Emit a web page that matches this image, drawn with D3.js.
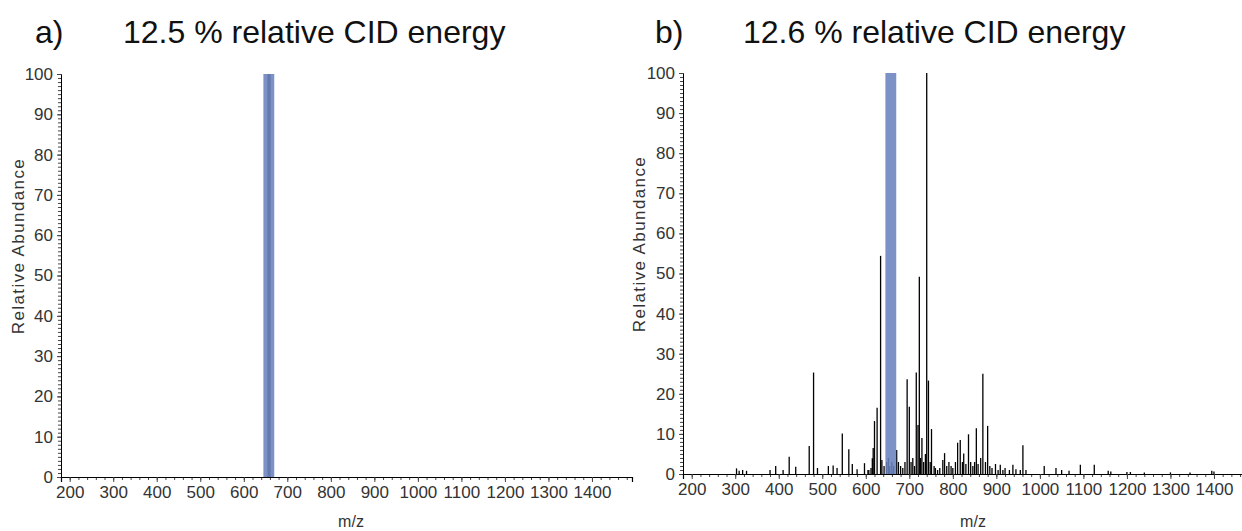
<!DOCTYPE html>
<html>
<head>
<meta charset="utf-8">
<script src="https://cdn.jsdelivr.net/npm/d3@7"></script>
<style>
  body { margin: 0; background: #fff; }
  svg text { font-family: "Liberation Sans", Arial, sans-serif; }
</style>
</head>
<body>
<div id="chart"></div>
<script>
// chart values
var panelLetters = ["a)", "b)"];
var panelTitles = ["12.5 % relative CID energy", "12.6 % relative CID energy"];
var mzTicks = [200, 300, 400, 500, 600, 700, 800, 900, 1000, 1100, 1200, 1300, 1400];
var abundanceTicks = [0, 10, 20, 30, 40, 50, 60, 70, 80, 90, 100];
var isolationWindow = [645, 670];

// panel a: only the precursor under the isolation window
var peaksA = [[656, 100], [660, 100]];

// panel b: fragment peaks [m/z, relative abundance]
var peaksB = [
  [303, 1.4], [309, 0.8], [317, 1.0], [326, 0.8], [380, 1.0], [393, 2.0], [410, 1.0],
  [424, 4.3], [439, 1.8], [470, 7.0], [480, 25.3], [489, 1.5], [514, 2.0], [525, 2.1],
  [534, 1.5], [546, 10.1], [561, 6.2], [569, 2.5], [580, 1.2], [597, 2.7], [605, 1.0],
  [607, 1.0], [612, 1.5], [615, 3.9], [617, 6.5], [620, 13.2], [626, 16.5], [634, 54.4],
  [637, 3.5], [642, 2], [648, 3], [652, 4], [655, 2], [660, 3], [664, 2], [671, 6],
  [675, 3], [680, 2], [685, 1.5], [690, 3], [695, 23.6], [700, 16.8], [704, 3], [708, 4],
  [712, 2], [716, 25.3], [720, 12.2], [723, 49.2], [726, 4], [729, 9], [733, 3], [737, 5],
  [740, 100], [744, 23.3], [748, 3], [751, 11.2], [757, 2], [760, 1.5], [765, 1], [770, 1.5],
  [777, 3.5], [781, 5.2], [786, 2], [791, 3], [796, 2], [800, 1.5], [806, 3], [811, 7.8],
  [817, 8.5], [822, 3], [825, 5.1], [830, 2.5], [836, 9.9], [841, 3], [846, 2], [850, 3],
  [854, 11.4], [858, 2.5], [864, 4], [869, 25], [875, 3], [880, 12], [885, 2], [890, 1.5],
  [898, 2.5], [904, 1], [909, 2.3], [915, 1], [920, 1.5], [930, 1], [938, 2.3], [945, 1.2],
  [955, 1], [961, 7.2], [968, 1], [1010, 2], [1037, 1.5], [1050, 1], [1067, 0.8],
  [1093, 2.3], [1125, 2.3], [1157, 0.8], [1163, 0.6], [1200, 0.5], [1208, 0.5],
  [1240, 0.4], [1300, 0.4], [1345, 0.4], [1395, 0.8], [1400, 0.6]
];

var svg = d3.select("#chart")
  .append("svg")
  .attr("width", 1242)
  .attr("height", 531);

function drawPanel(p) {
  var x = d3.scaleLinear().domain([180, 1492]).range([p.left, p.left + 571]);
  var y = d3.scaleLinear().domain([0, 100]).range([p.bottom, p.top]);

  var g = svg.append("g");

  // title
  g.append("text")
    .attr("x", p.letterX).attr("y", 43)
    .attr("font-size", "32px").attr("fill", "#111")
    .text(p.letter);
  g.append("text")
    .attr("x", p.titleX).attr("y", 43)
    .attr("font-size", "32px").attr("fill", "#111")
    .text(p.title);

  // spectrum sticks
  g.selectAll("line.peak")
    .data(p.peaks)
    .enter()
    .append("line")
    .attr("class", "peak")
    .attr("x1", d => x(d[0])).attr("x2", d => x(d[0]))
    .attr("y1", y(0)).attr("y2", d => y(d[1]))
    .attr("stroke", "#000")
    .attr("stroke-width", 1.3);

  // isolation window
  g.append("rect")
    .attr("x", x(isolationWindow[0]))
    .attr("width", x(isolationWindow[1]) - x(isolationWindow[0]))
    .attr("y", y(100))
    .attr("height", y(0) - y(100))
    .attr("fill", "#6a83bf")
    .attr("opacity", 0.88);

  // y axis, minor ticks
  g.append("g")
    .attr("transform", `translate(${p.left},0)`)
    .call(d3.axisLeft(y).tickValues(d3.range(0, 101, 1)).tickSize(3).tickFormat(""))
    .call(a => a.selectAll("line").attr("stroke", "#444"))
    .call(a => a.select(".domain").remove());
  // y axis, labels
  g.append("g")
    .attr("transform", `translate(${p.left},0)`)
    .call(d3.axisLeft(y).tickValues(abundanceTicks).tickSize(4).tickPadding(4))
    .call(a => a.selectAll("text").attr("font-size", "17px").attr("fill", "#333").attr("font-family", null))
    .call(a => a.selectAll("line").attr("stroke", "#444"))
    .call(a => a.select(".domain").attr("stroke", "#000"));

  // x axis, minor ticks
  g.append("g")
    .attr("transform", `translate(0,${p.bottom})`)
    .call(d3.axisBottom(x).tickValues(d3.range(180, 1492, 20)).tickSize(3).tickFormat(""))
    .call(a => a.selectAll("line").attr("stroke", "#444"))
    .call(a => a.select(".domain").remove());
  // x axis, labels
  g.append("g")
    .attr("transform", `translate(0,${p.bottom})`)
    .call(d3.axisBottom(x).tickValues(mzTicks).tickSize(5).tickPadding(4).tickFormat(d3.format("d")))
    .call(a => a.selectAll("text").attr("font-size", "17px").attr("fill", "#333").attr("font-family", null))
    .call(a => a.selectAll("line").attr("stroke", "#444"))
    .call(a => a.select(".domain").attr("stroke", "#000").attr("stroke-width", 1.2));

  // axis titles
  g.append("text")
    .attr("transform", `translate(${p.yLabelX},${p.yLabelY}) rotate(-90)`)
    .attr("text-anchor", "middle")
    .attr("font-size", "17px")
    .attr("letter-spacing", "1.4px")
    .attr("fill", "#333")
    .text("Relative Abundance");
  g.append("text")
    .attr("x", p.left + 290).attr("y", 527)
    .attr("text-anchor", "middle")
    .attr("font-size", "16px")
    .attr("fill", "#333")
    .text("m/z");
}

drawPanel({
  letter: panelLetters[0], title: panelTitles[0], peaks: peaksA,
  left: 61, top: 74, bottom: 477,
  letterX: 35, titleX: 123, yLabelX: 24, yLabelY: 246
});
drawPanel({
  letter: panelLetters[1], title: panelTitles[1], peaks: peaksB,
  left: 683, top: 73, bottom: 474,
  letterX: 655, titleX: 743, yLabelX: 645, yLabelY: 244
});
</script>
</body>
</html>
